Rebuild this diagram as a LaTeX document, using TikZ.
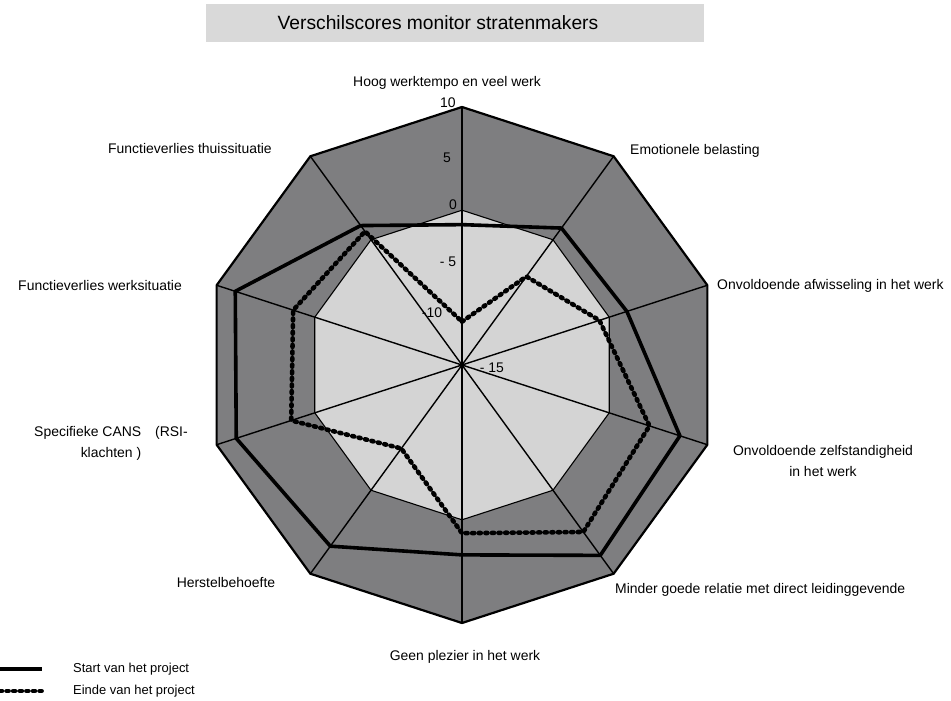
\documentclass[tikz,border=0pt]{standalone}
\usepackage{fontspec}
\setmainfont{Liberation Sans}
\usetikzlibrary{positioning}
\usetikzlibrary{calc}

\definecolor{ringgray}{RGB}{126,126,128}
\definecolor{coregray}{RGB}{212,212,212}
\definecolor{titlegray}{RGB}{217,217,217}

\begin{document}
\begin{tikzpicture}[x=1bp, y=1bp,
        axislabel/.style={font=\fontsize{14}{21}\selectfont, inner sep=0pt},
        ticklabel/.style={font=\fontsize{14}{17}\selectfont, inner sep=0pt},
        spoke/.style={line width=1.4bp},
        rim/.style={line width=2.2bp},
        startline/.style={line width=3.6bp, line join=round},
        endline/.style={line width=4.6bp, line cap=round, line join=round, dash pattern=on 2bp off 4.6bp}]
        \useasboundingbox (-462,-336) rectangle (489,365);

        % title
        \node[fill=titlegray, minimum width=500, minimum height=38, inner sep=0pt] (titlebox) at (-7,342) {};
        \node[font=\fontsize{19.3}{22}\selectfont, inner sep=0pt] (title) at (-24,342) {Verschilscores monitor stratenmakers};

        % grid of the chart
        \coordinate (c) at (0,0);
        \foreach \i in {1,...,10} {
            \coordinate (o\i) at ({126-36*\i}:258);
            \coordinate (z\i) at ({126-36*\i}:154.8);
        }
        \fill[ringgray] (o1) \foreach \i in {2,...,10} {-- (o\i)} -- cycle;
        \fill[coregray] (z1) \foreach \i in {2,...,10} {-- (z\i)} -- cycle;
        \draw[line width=1.1bp] (z1) \foreach \i in {2,...,10} {-- (z\i)} -- cycle;
        \foreach \i in {1,...,10}
            \draw[spoke] (c) -- (o\i);
        \draw[rim] (o1) \foreach \i in {2,...,10} {-- (o\i)} -- cycle;

        % scale
        \node[ticklabel] (t10) at (-14,262) {10};
        \node[ticklabel] (t5) at (-15,207) {5};
        \node[ticklabel] (t0) at (-9,160) {0};
        \node[ticklabel] (tm5) at (-14,103) {- 5};
        \node[ticklabel] (tm10) at (-30,52) {-10};
        \node[ticklabel] (tm15) at (30,-3) {- 15};

        % the two measurements
        \foreach \v [count=\i] in {-1.4,1.4,1.8,7.2,7.8,3.4,6.7,8.0,8.1,1.7}
            \coordinate (s\i) at ({126-36*\i}:{(\v+15)*10.32});
        \foreach \v [count=\i] in {-10.8,-4.4,-1.0,4.1,5.0,1.3,-5.0,2.4,2.2,1.0}
            \coordinate (e\i) at ({126-36*\i}:{(\v+15)*10.32});
        \draw[startline] (s1) \foreach \i in {2,...,10} {-- (s\i)} -- cycle;
        \draw[endline] (e1) \foreach \i in {2,...,10} {-- (e\i)} -- cycle;

        % axis names
        \node[axislabel] (hoog) at (-15,282) {Hoog werktempo en veel werk};
        \node[axislabel, anchor=west] (emo) at (168,214) {Emotionele belasting};
        \node[axislabel, anchor=west] (afw) at (255,79) {Onvoldoende afwisseling in het werk};
        \node[axislabel, align=center] (zelf) at (361,-96) {Onvoldoende zelfstandigheid\\in het werk};
        \node[axislabel, anchor=west] (relatie) at (153,-225) {Minder goede relatie met direct leidinggevende};
        \node[axislabel] (plezier) at (3,-292) {Geen plezier in het werk};
        \node[axislabel] (herstel) at (-236,-218) {Herstelbehoefte};
        \node[axislabel, align=center] (cans) at (-351,-78) {Specifieke CANS\hspace{14bp}(RSI-\\klachten )};
        \node[axislabel, anchor=east] (werk) at (-280,79) {Functieverlies werksituatie};
        \node[axislabel] (thuis) at (-272,216) {Functieverlies thuissituatie};

        % legend
        \coordinate (lsa) at (-462,-304);
        \coordinate (lsb) at (-420,-304);
        \coordinate (lea) at (-462,-326);
        \coordinate (leb) at (-420,-326);
        \draw[startline] (lsa) -- (lsb);
        \draw[endline] (lea) -- (leb);
        \node[font=\fontsize{13}{15}\selectfont, anchor=west, inner sep=0pt] (legstart) at (-389,-304) {Start van het project};
        \node[font=\fontsize{13}{15}\selectfont, anchor=west, inner sep=0pt] (legend) at (-389,-326) {Einde van het project};
\end{tikzpicture}
\end{document}
